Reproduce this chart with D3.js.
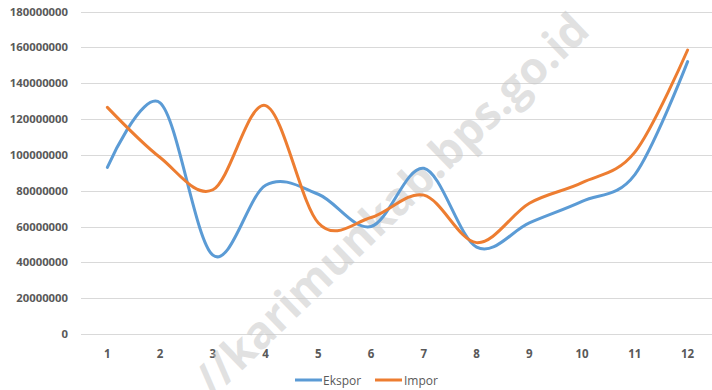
<!DOCTYPE html>
<html>
<head>
<meta charset="utf-8">
<script src="https://cdn.jsdelivr.net/npm/d3@7"></script>
<style>
  body { margin: 0; background: #fff; }
  text { font-family: "Open Sans", sans-serif; }
</style>
</head>
<body>
<div id="chart"></div>
<script>
const months = ["1", "2", "3", "4", "5", "6", "7", "8", "9", "10", "11", "12"];
const ekspor = [93000000, 129000000, 44000000, 83000000, 78000000, 60000000, 92500000, 48500000, 62000000, 74000000, 89000000, 152000000];
const impor = [126500000, 98500000, 80500000, 127500000, 62000000, 65000000, 77500000, 51000000, 73000000, 84500000, 101500000, 158500000];
const yTicks = [0, 20000000, 40000000, 60000000, 80000000, 100000000, 120000000, 140000000, 160000000, 180000000];

const width = 712, height = 390;
const margins = { left: 81, right: -2, top: 11.5, bottom: 56 };

const svg = d3.select("#chart").append("svg")
  .attr("width", width)
  .attr("height", height);

const x = d3.scaleBand()
  .domain(months)
  .range([margins.left, width - margins.right]);

const y = d3.scaleLinear()
  .domain([0, 180000000])
  .range([height - margins.bottom, margins.top]);

// gridlines
svg.append("g")
  .selectAll("line")
  .data(yTicks)
  .enter()
  .append("line")
  .attr("x1", margins.left)
  .attr("x2", width)
  .attr("y1", (d) => Math.round(y(d)) + 0.5)
  .attr("y2", (d) => Math.round(y(d)) + 0.5)
  .attr("stroke", "#d9d9d9")
  .attr("stroke-width", 1);

// y labels
svg.append("g")
  .selectAll("text")
  .data(yTicks)
  .enter()
  .append("text")
  .attr("x", 68)
  .attr("y", (d) => y(d) + 4)
  .attr("text-anchor", "end")
  .attr("font-size", 11.3)
  .attr("font-weight", "bold")
  .attr("fill", "#595959")
  .text((d) => d);

// x labels
svg.append("g")
  .selectAll("text")
  .data(months)
  .enter()
  .append("text")
  .attr("x", (d) => x(d) + x.bandwidth() / 2)
  .attr("y", 358)
  .attr("text-anchor", "middle")
  .attr("font-size", 11.5)
  .attr("font-weight", "bold")
  .attr("fill", "#595959")
  .text((d) => d);

// watermark (cut off at the bottom, as in the source)
svg.append("text")
  .attr("transform", "translate(394,207) rotate(-44)")
  .attr("text-anchor", "middle")
  .attr("dominant-baseline", "middle")
  .attr("font-family", "'Liberation Sans', Arial, sans-serif")
  .attr("font-size", 45)
  .attr("font-weight", "bold")
  .attr("fill", "#c8c8c8")
  .attr("fill-opacity", 0.55)
  .text("//karimunkab.bps.go.id");

const line = d3.line()
  .curve(d3.curveCardinal.tension(0))
  .x((d, i) => x(months[i]) + x.bandwidth() / 2)
  .y((d) => y(d));

const series = [
  { key: "Ekspor", values: ekspor, color: "#5B9BD5" },
  { key: "Impor", values: impor, color: "#ED7D31" },
];

series.forEach((s) => {
  svg.append("path")
    .attr("fill", "none")
    .attr("stroke", s.color)
    .attr("stroke-width", 3)
    .attr("stroke-linecap", "round")
    .attr("d", line(s.values));
});

// legend
const legend = svg.append("g");
const legendPos = [{ lx: 295, tx: 323 }, { lx: 375, tx: 404 }];
series.forEach((s, i) => {
  legend.append("line")
    .attr("x1", legendPos[i].lx)
    .attr("x2", legendPos[i].lx + 27)
    .attr("y1", 380)
    .attr("y2", 380)
    .attr("stroke", s.color)
    .attr("stroke-width", 3);
  legend.append("text")
    .attr("x", legendPos[i].tx)
    .attr("y", 384.5)
    .attr("font-size", 12)
    .attr("fill", "#595959")
    .text(s.key);
});
</script>
</body>
</html>
